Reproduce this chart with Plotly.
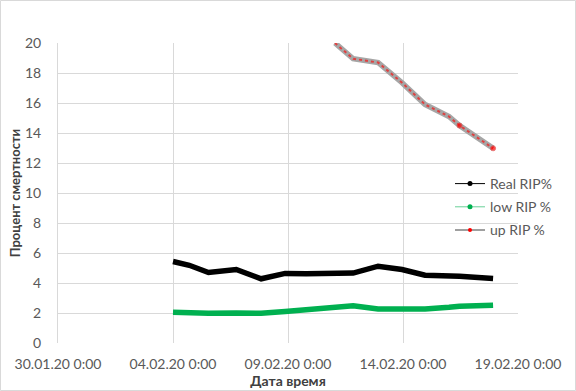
import plotly.graph_objects as go

# ---- data ----
dates = [
    "2020-02-04 00:00", "2020-02-04 17:00", "2020-02-05 13:00", "2020-02-06 18:00",
    "2020-02-07 20:00", "2020-02-08 21:00", "2020-02-09 19:00", "2020-02-11 01:00",
    "2020-02-11 20:00", "2020-02-12 22:00", "2020-02-13 23:00", "2020-02-14 23:00",
    "2020-02-16 00:00", "2020-02-16 11:00", "2020-02-17 22:00",
]
real_rip = [5.43, 5.18, 4.70, 4.90, 4.28, 4.64, 4.62, 4.68, 4.66, 5.12, 4.90, 4.52, 4.52, 4.45, 4.30]
low_rip = [2.05, 2.00, 1.98, 2.00, 1.98, 2.10, 2.20, 2.35, 2.48, 2.27, 2.27, 2.27, 2.38, 2.45, 2.52]
up_rip = [None, None, None, None, None, None, None, 20.0, 18.95, 18.7, 17.35, 15.9, 15.1, 14.5, 12.98]

tick_vals = ["2020-01-30", "2020-02-04", "2020-02-09", "2020-02-14", "2020-02-19"]
tick_text = ["30.01.20 0:00", "04.02.20 0:00", "09.02.20 0:00", "14.02.20 0:00", "19.02.20 0:00"]

series_names = ["Real RIP%", "low RIP %", "up RIP %"]

FONT = "Lato, 'Noto Sans', sans-serif"
TXT = "#595959"
GRID = "#d9d9d9"

fig = go.Figure()

# main lines (not in legend)
fig.add_trace(go.Scatter(x=dates, y=real_rip, mode="lines", line=dict(color="black", width=5.5),
                         showlegend=False, hoverinfo="skip"))
fig.add_trace(go.Scatter(x=dates, y=low_rip, mode="lines", line=dict(color="#00b050", width=5.5),
                         showlegend=False, hoverinfo="skip"))
fig.add_trace(go.Scatter(x=dates, y=up_rip, mode="lines", line=dict(color="#a6a6a6", width=5.5),
                         showlegend=False, hoverinfo="skip"))
up_marker_sizes = [0] * 13 + [5, 5]
fig.add_trace(go.Scatter(x=dates, y=up_rip, mode="lines+markers",
                         line=dict(color="#e04040", width=2, dash="dot"),
                         marker=dict(color="red", size=up_marker_sizes),
                         showlegend=False, hoverinfo="skip"))

# legend-only entries
fig.add_trace(go.Scatter(x=[None], y=[None], mode="lines+markers", name=series_names[0], legendgroup="a",
                         line=dict(color="black", width=1), marker=dict(color="black", size=5)))
fig.add_trace(go.Scatter(x=[None], y=[None], mode="lines+markers", name=series_names[1], legendgroup="b",
                         line=dict(color="#00b050", width=0.6), marker=dict(color="#00b050", size=5)))
fig.add_trace(go.Scatter(x=[None], y=[None], mode="lines+markers", name=series_names[2], legendgroup="c",
                         line=dict(color="#404040", width=1), marker=dict(color="red", size=4)))

W, H = 576, 391
ml, mr, mt, mb = 58, 58, 43, 48
pw, ph = W - ml - mr, H - mt - mb

fig.update_layout(
    width=W, height=H,
    margin=dict(l=ml, r=mr, t=mt, b=mb, autoexpand=False),
    paper_bgcolor="white", plot_bgcolor="white",
    font=dict(family=FONT, size=14, color=TXT),
    legend=dict(x=(450 - ml) / pw, y=(H - mb - 168) / ph, xanchor="left", yanchor="top",
                bgcolor="rgba(0,0,0,0)", font=dict(size=14, color=TXT),
                traceorder="grouped", itemwidth=30, tracegroupgap=2),
    shapes=[dict(type="rect", xref="paper", yref="paper",
                 x0=(0.5 - ml) / pw, x1=(W - 0.5 - ml) / pw,
                 y0=-(mb - 0.5) / ph, y1=1 + (mt - 0.5) / ph,
                 line=dict(color=GRID, width=1), layer="below")],
)

fig.update_xaxes(
    type="date", range=["2020-01-30", "2020-02-19"],
    tickvals=tick_vals, ticktext=tick_text,
    showgrid=True, gridcolor=GRID, gridwidth=1, zeroline=False, showline=False,
    ticks="", ticklabelstandoff=11, tickfont=dict(size=14, color=TXT),
    title=dict(text="<b>Дата время</b>", font=dict(size=14, color="#404040"), standoff=4),
)
fig.update_yaxes(
    range=[0, 20], dtick=2, tick0=0,
    showgrid=True, gridcolor=GRID, gridwidth=1, zeroline=False,
    showline=True, linecolor=GRID, linewidth=1,
    ticks="", ticklabelstandoff=13, tickfont=dict(size=14, color=TXT),
    title=dict(text="<b>Процент смертности</b>", font=dict(size=13, color="#404040"), standoff=1),
)

fig.write_html("out.html", config={"displayModeBar": False},
               post_script="document.body.style.margin='0';")
